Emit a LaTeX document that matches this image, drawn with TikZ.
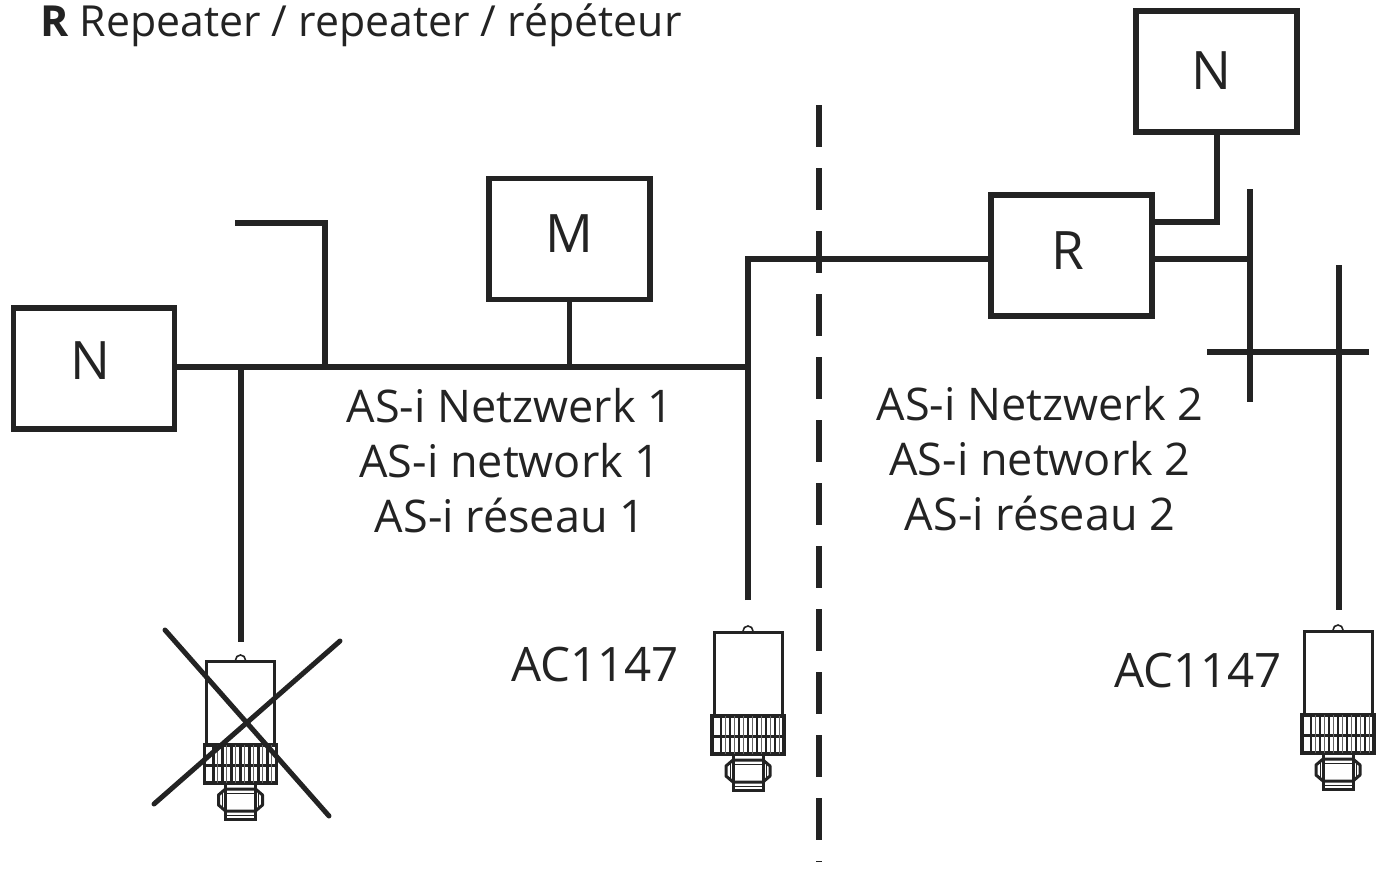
\documentclass[tikz,border=0pt]{standalone}
\usepackage{fontspec}
\setmainfont{Open Sans}
\definecolor{ink}{HTML}{232323}
\newcommand{\boxtext}[3]{\hspace*{#1}\raisebox{#2}[0pt][0pt]{#3}}
\tikzset{
  x=1pt,y=-1pt,
  box/.style={draw=ink,line width=5.5pt,minimum width=161pt,minimum height=121pt,inner sep=0pt,text=ink,text height=0pt,text depth=0pt,font=\fontsize{53}{53}\selectfont},
  wire/.style={draw=ink,line width=5.8pt,line join=miter},
  thinwire/.style={draw=ink,line width=5pt},
  sep/.style={draw=ink,line width=6pt,dash pattern=on 42pt off 21pt},
  lbl/.style={text=ink,font=\fontsize{45}{55}\selectfont,align=center,inner sep=0pt},
  titlelbl/.style={text=ink,font=\fontsize{42.8}{50}\selectfont,inner sep=0pt},
  partlbl/.style={text=ink,font=\fontsize{47.5}{55}\selectfont,inner sep=0pt},
  cross/.style={draw=ink,line width=5pt,line cap=round},
  hw/.style={draw=ink,line width=3pt},
  hf/.style={draw=ink,line width=1pt},
}
\newcommand{\sensorat}[3]{%
  \coordinate (#1) at (#2,#3);
  \begin{scope}[shift={(#2,#3)}]
    \draw[hw] (-34,0) rectangle (34,84);
    \draw[draw=ink,line width=1.6pt] (-5,-1) arc[start angle=180,end angle=360,radius=5];
    \draw[draw=ink,line width=3.4pt] (-36,84) rectangle (36,122);
    \draw[draw=ink,line width=3pt] (-36,104) -- (36,104);
    \foreach \xx in {-27,-18,-9,0,9,18,27}{
      \draw[draw=ink,line width=2.2pt] (\xx,84) -- (\xx,122);
      \draw[hf,draw=ink!70] (\xx+4,84) -- (\xx+4,122);
    }
    \draw[hw] (-15,122) -- (-15,158) -- (15,158) -- (15,122);
    \draw[hw,line join=round] (-15,128) -- (-22,134) -- (-22,144) -- (-15,150) -- (15,150) -- (22,144) -- (22,134) -- (15,128) -- cycle;
    \draw[hf] (-18,132) -- (-18,146);
    \draw[hf] (18,132) -- (18,146);
    \draw[hf] (-15,132) -- (15,132);
    \draw[hf] (-15,154) -- (15,154);
  \end{scope}}
\begin{document}
\begin{tikzpicture}
\useasboundingbox (0,0) rectangle (1379,870);
\fill[white] (0,0) rectangle (1379,870);

\node[titlelbl,anchor=base west] (title) at (40,36) {\textbf{R} Repeater / repeater / répéteur};

\node[box] (n1) at (94,368.5) {\boxtext{-8pt}{-10.5pt}{N}};
\node[box] (m) at (569.5,239) {\boxtext{0pt}{-13pt}{M}};
\node[box] (r) at (1071.5,255.5) {\boxtext{-7pt}{-13.5pt}{R}};
\node[box] (n2) at (1216.5,71.5) {\boxtext{-11pt}{-17.5pt}{N}};

\coordinate (bus) at (325,367);
\coordinate (stubtop) at (325,223);
\coordinate (stubend) at (235,223);
\coordinate (busa) at (241,367);
\coordinate (busend) at (748,367);
\coordinate (riser) at (748,259);
\coordinate (riserfree) at (748,600);
\coordinate (sensorfree) at (241,642);
\coordinate (mfoot) at (569,367);
\coordinate (rn) at (1217,222);
\coordinate (tbar) at (1250,259);
\coordinate (tbara) at (1250,189);
\coordinate (tbarb) at (1250,402);
\coordinate (hbara) at (1207,352);
\coordinate (hbarb) at (1369,352);
\coordinate (vbara) at (1339,265);
\coordinate (vbarb) at (1339,610);
\coordinate (sepa) at (818.5,105);
\coordinate (sepb) at (818.5,862);

\draw[sep] (sepa) -- (sepb);

\draw[wire] (n1.east |- busend) -- (busend);
\draw[wire] (riserfree) -- (riser) -- (r.west |- riser);
\draw[wire] (busa) -- (sensorfree);
\draw[wire] (bus) -- (stubtop) -- (stubend);
\draw[thinwire] (m.south -| mfoot) -- (mfoot);
\draw[wire] (r.east |- rn) -- (rn) -- (n2.south -| rn);
\draw[wire] (r.east |- tbar) -- (tbar);
\draw[wire] (tbara) -- (tbarb);
\draw[wire] (hbara) -- (hbarb);
\draw[wire] (vbara) -- (vbarb);

\node[lbl] (net1) at (510,461) {AS-i Netzwerk 1\\AS-i network 1\\AS-i réseau 1};
\node[lbl] (net2) at (1040,459) {AS-i Netzwerk 2\\AS-i network 2\\AS-i réseau 2};
\node[partlbl,anchor=base west] (ac1) at (511,681) {AC1147};
\node[partlbl,anchor=base west] (ac2) at (1114,687) {AC1147};

\sensorat{s1}{240.5}{661}
\sensorat{s2}{748}{632}
\sensorat{s3}{1338}{631}

\coordinate (xa) at (165,630);
\coordinate (xb) at (329,816);
\coordinate (xc) at (340,641);
\coordinate (xd) at (154,804);
\draw[cross] (xa) -- (xb);
\draw[cross] (xc) -- (xd);
\end{tikzpicture}
\end{document}
